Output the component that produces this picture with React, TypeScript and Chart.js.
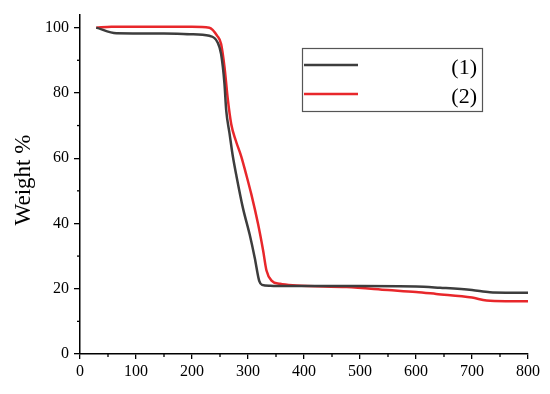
import React, { useEffect, useRef } from "react";
import { Chart, registerables } from "chart.js";

Chart.register(...registerables);

const seriesLabels = ["(1)", "(2)"];

const temp1 = [29, 65, 150, 196, 231, 246, 252, 258, 261, 267, 273, 279, 291, 303, 312, 320, 325, 340, 357, 400, 500, 600, 643, 700, 732, 760, 800];
const weight1 = [100, 98.3, 98.2, 98.0, 97.5, 95.4, 91.9, 82.8, 74.8, 67.6, 60.5, 54.9, 44.7, 36.6, 29.5, 22.4, 21.2, 20.9, 20.8, 20.8, 20.8, 20.7, 20.3, 19.6, 18.9, 18.8, 18.8];

const temp2 = [29, 56, 200, 231, 245, 252, 258, 264, 270, 278, 288, 296, 306, 318, 327, 333, 342, 357, 386, 476, 550, 600, 636, 700, 726, 760, 800];
const weight2 = [100, 100.3, 100.3, 100, 97.5, 95, 88, 78, 70.5, 65.5, 60.5, 55.5, 48.9, 39.8, 31.7, 25.6, 22.5, 21.5, 21.0, 20.5, 19.6, 19.0, 18.4, 17.3, 16.4, 16.2, 16.2];

const xMajorTicks = [0, 100, 200, 300, 400, 500, 600, 700, 800];
const xMinorTicks = [50, 150, 250, 350, 450, 550, 650, 750];
const yMajorTicks = [0, 20, 40, 60, 80, 100];
const yMinorTicks = [10, 30, 50, 70, 90];

const yTitle = "Weight %";

const colors = ["#3d3d3d", "#e8272b"];
const serif = "'Liberation Serif', 'Times New Roman', serif";

export default function App() {
  const ref = useRef<HTMLCanvasElement | null>(null);

  useEffect(() => {
    if (!ref.current) return;
    const extras = {
      id: "extras",
      afterDraw(chart: any) {
        const ctx = chart.ctx;
        const xs = chart.scales.x;
        const ys = chart.scales.y;
        const area = chart.chartArea;
        ctx.save();
        ctx.strokeStyle = "#000";
        ctx.lineWidth = 1.3;
        // minor ticks
        xMinorTicks.forEach((v) => {
          const px = xs.getPixelForValue(v);
          ctx.beginPath();
          ctx.moveTo(px, area.bottom);
          ctx.lineTo(px, area.bottom + 3);
          ctx.stroke();
        });
        yMinorTicks.forEach((v) => {
          const py = ys.getPixelForValue(v);
          ctx.beginPath();
          ctx.moveTo(area.left, py);
          ctx.lineTo(area.left - 3, py);
          ctx.stroke();
        });
        // y title
        ctx.save();
        ctx.translate(24, 180);
        ctx.rotate(-Math.PI / 2);
        ctx.fillStyle = "#000";
        ctx.font = `23px ${serif}`;
        ctx.textAlign = "center";
        ctx.textBaseline = "middle";
        ctx.fillText(yTitle, 0, 0);
        ctx.restore();
        // legend
        const bx = 302, by = 48, bw = 180, bh = 63;
        ctx.strokeStyle = "#555";
        ctx.lineWidth = 1.2;
        ctx.strokeRect(bx + 0.5, by + 0.5, bw, bh);
        const rows = [65, 94];
        chart.data.datasets.forEach((ds: any, i: number) => {
          ctx.strokeStyle = ds.borderColor;
          ctx.lineWidth = 2.5;
          ctx.beginPath();
          ctx.moveTo(304, rows[i]);
          ctx.lineTo(358, rows[i]);
          ctx.stroke();
          ctx.fillStyle = "#000";
          ctx.font = `22px ${serif}`;
          ctx.textAlign = "right";
          ctx.textBaseline = "middle";
          ctx.fillText(ds.label, 477, rows[i] + 3);
        });
        ctx.restore();
      },
    };

    const chart = new Chart(ref.current, {
      type: "line",
      data: {
        datasets: [
          {
            label: seriesLabels[0],
            data: temp1.map((t, i) => ({ x: t, y: weight1[i] })),
            borderColor: colors[0],
            borderWidth: 2.5,
            pointRadius: 0,
            cubicInterpolationMode: "monotone",
          },
          {
            label: seriesLabels[1],
            data: temp2.map((t, i) => ({ x: t, y: weight2[i] })),
            borderColor: colors[1],
            borderWidth: 2.5,
            pointRadius: 0,
            cubicInterpolationMode: "monotone",
          },
        ],
      },
      options: {
        animation: false,
        responsive: false,
        layout: { padding: { top: 12, right: 22, left: 0, bottom: 0 } },
        plugins: { legend: { display: false }, tooltip: { enabled: false } },
        scales: {
          x: {
            type: "linear",
            min: 0,
            max: 800,
            afterFit: (s: any) => {
              s.height = 40;
            },
            afterBuildTicks: (s: any) => {
              s.ticks = xMajorTicks.map((v) => ({ value: v }));
            },
            border: { display: true, color: "#000", width: 1.5 },
            grid: { drawOnChartArea: false, drawTicks: true, tickLength: 5, color: "#000", lineWidth: 1.3 },
            ticks: { color: "#000", font: { family: serif, size: 16 }, padding: 3, maxRotation: 0 },
          },
          y: {
            type: "linear",
            min: 0,
            max: 104,
            afterFit: (s: any) => {
              s.width = 80;
            },
            afterBuildTicks: (s: any) => {
              s.ticks = yMajorTicks.map((v) => ({ value: v }));
            },
            border: { display: true, color: "#000", width: 1.5 },
            grid: { drawOnChartArea: false, drawTicks: true, tickLength: 6, color: "#000", lineWidth: 1.3 },
            ticks: { color: "#000", font: { family: serif, size: 16 }, padding: 5 },
          },
        },
      },
      plugins: [extras],
    });
    return () => chart.destroy();
  }, []);

  return (
    <div style={{ position: "fixed", left: 0, top: 0, width: 550, height: 394, background: "#fff" }}>
      <canvas ref={ref} width={550} height={394} />
    </div>
  );
}
